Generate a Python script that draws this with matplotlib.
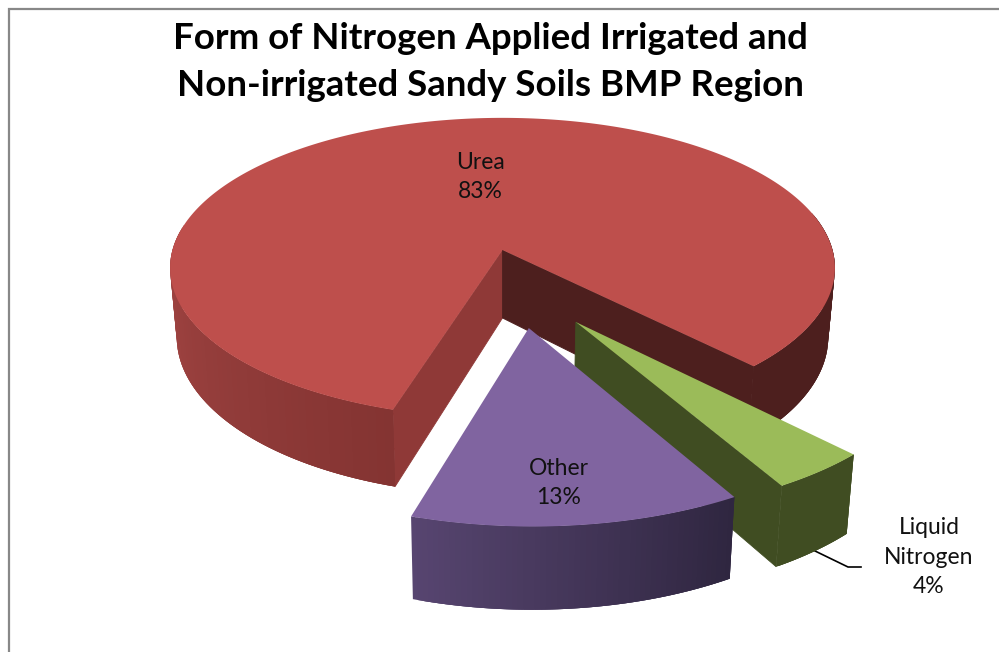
"""
Exploded 3D pie: form of nitrogen applied
"""
import numpy as np
import matplotlib
matplotlib.use('Agg')
import matplotlib.pyplot as plt
from matplotlib.collections import PolyCollection
from matplotlib.colors import to_rgb

title = 'Form of Nitrogen Applied Irrigated and\nNon-irrigated Sandy Soils BMP Region'
labels = ['Urea', 'Liquid\nNitrogen', 'Other']
values = [83, 4, 13]

top_colors = ['#BE4F4C', '#9BBB59', '#8064A0']
# None: the cut face looks away from the viewer
near_cut = ['#8F3937', None, None]
far_cut = ['#4D1F1E', '#404D22', None]
wall_left = ['#A64745', '#404D22', '#574570']
wall_right = ['#843432', '#404D22', '#2F2640']
wall_flat = ['#4D1F1E', '#404D22', '#2F2640']

offsets = [(0, 0), (0.21, -0.46), (0.075, -0.496)]
radii = [1, 1.01, 1.03]
label_pos = [(480, 177), (929, 557), (559, 483)]

# picture geometry, pixels
cx, cy = 502.5, 250
rx, ry = 330, 148
k = 0.12
depth = 68
shrink = 0.98
start = 252.9


def project(u, v, low=False):
    s = 1/(1 + k*v)
    x = rx*u*s
    y = cy - ry*v*s
    if low:
        x = x*shrink
        y = y + depth*s
    return cx + x, y


def rim(a, off, r):
    t = np.radians(a)
    return r*np.cos(t) + off[0], r*np.sin(t) + off[1]


def face(ax, a, off, r, color):
    if color is None:
        return
    u, v = rim(a, off, r)
    uu = np.linspace(off[0], u, 40)
    vv = np.linspace(off[1], v, 40)
    x1, y1 = project(uu, vv)
    x2, y2 = project(uu, vv, True)
    ax.fill(np.r_[x1, x2[::-1]], np.r_[y1, y2[::-1]], color=color, lw=0.6, zorder=zo)


def wall(ax, a1, a2, off, r, c1, c2):
    aa = np.linspace(a1, a2, 60)
    u, v = rim(aa, off, r)
    x1, y1 = project(u, v)
    x2, y2 = project(u, v, True)
    c1, c2 = np.array(to_rgb(c1)), np.array(to_rgb(c2))
    # each strip runs under the next one, so no seams show
    polys = []
    cols = []
    n = len(aa)
    for i in range(n - 1):
        j = min(i + 3, n - 1)
        polys.append([(x1[i], y1[i])] + list(zip(x1[i+1:j+1], y1[i+1:j+1]))
                     + list(zip(x2[i+1:j+1][::-1], y2[i+1:j+1][::-1])) + [(x2[i], y2[i])])
        cols.append(c1 + (c2 - c1)*i/(n - 2))
    ax.add_collection(PolyCollection(polys, facecolors=cols, edgecolors='none', linewidths=0, zorder=zo))


fig = plt.figure(figsize=(9.99, 6.52), dpi=100)
ax = fig.add_axes([0, 0, 1, 1])
ax.set_xlim(0, 999)
ax.set_ylim(652, 0)
ax.axis('off')

plt.rcParams['font.family'] = ['Lato', 'DejaVu Sans']

# chart frame
ax.plot([9, 9, 999], [652, 8.5, 8.5], color='#888888', lw=1.6, solid_joinstyle='miter', zorder=0)

# slices go clockwise, back to front: Urea, Liquid Nitrogen, Other
sweeps = 360*np.array(values)/np.sum(values)
edges = start - np.r_[0, np.cumsum(sweeps)]

for i in range(len(values)):
    a1, a2 = edges[i], edges[i+1]
    off = offsets[i]
    r = radii[i]
    zo = 1 + i*2
    face(ax, a1, off, r, near_cut[i])
    face(ax, a2, off, r, far_cut[i])
    if i == 0:
        # left part is shaded, right part is flat dark
        wall(ax, 170, a1, off, r, wall_left[i], wall_right[i])
        wall(ax, 15, a2, off, r, wall_flat[i], wall_flat[i])
    else:
        wall(ax, a2, a1, off, r, wall_left[i], wall_right[i])
    aa = np.linspace(a1, a2, 300)
    u, v = rim(aa, off, r)
    x, y = project(np.r_[off[0], u], np.r_[off[1], v])
    ax.fill(x, y, color=top_colors[i], lw=0, zorder=zo + 1)

# leader line of the outside label
ax.plot([813, 848, 861], [550, 567, 567], color='black', lw=1.2, zorder=2)

for i in range(len(values)):
    pct = '%d%%' % values[i]
    ax.text(label_pos[i][0], label_pos[i][1], labels[i] + '\n' + pct, ha='center', va='center',
            fontsize=16.5, linespacing=1.48, color='#111111', zorder=10)

ax.text(490, 62, title, ha='center', va='center', fontsize=26.4, fontweight='bold',
        linespacing=1.49, color='black', zorder=10)

fig.savefig('out.png', dpi=100)
